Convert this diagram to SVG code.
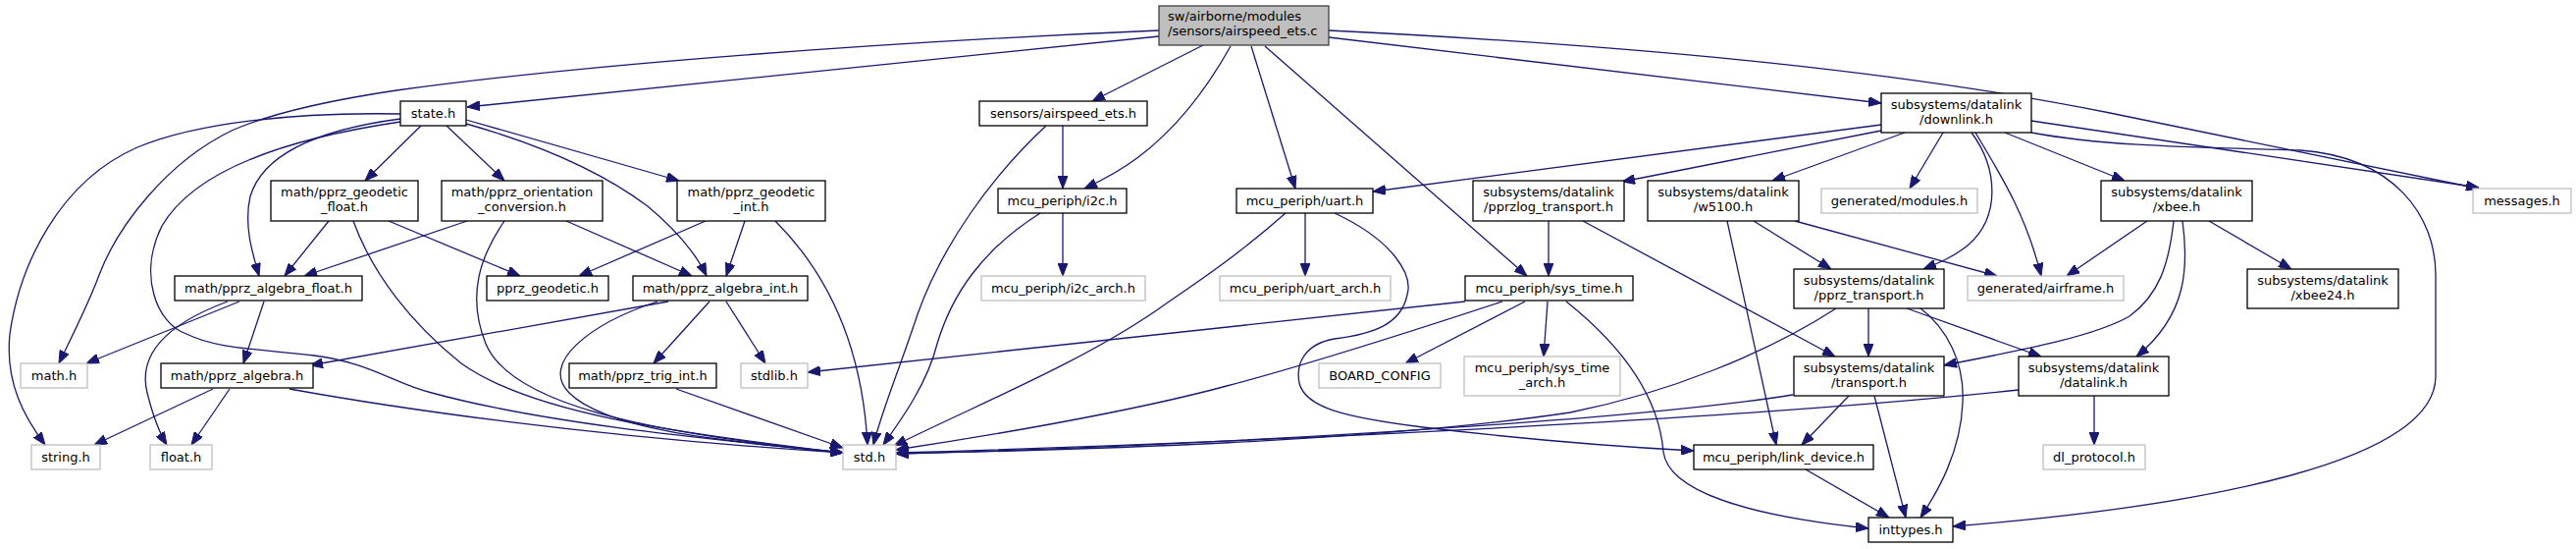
<svg xmlns="http://www.w3.org/2000/svg" width="2625" height="559" viewBox="0 0 2625 559">
<defs>
<marker id="ah" markerUnits="userSpaceOnUse" viewBox="0 0 13 10" refX="13" refY="5" markerWidth="13" markerHeight="10" orient="auto">
<path d="M0,0 L13,5 L0,10 z" fill="#191970" stroke="#191970" stroke-width="1"/>
</marker>
<style>
.e path{fill:none;stroke:#191970;stroke-width:1.3;marker-end:url(#ah)}
.d rect{fill:#fff;stroke:#000;stroke-width:1.3}
.u rect{fill:#fff;stroke:#bfbfbf;stroke-width:1.3}
.m rect{fill:#bfbfbf;stroke:#404040;stroke-width:1.3}
text{font-family:"DejaVu Sans","Liberation Sans",sans-serif;font-size:13px;fill:#000;text-anchor:middle}
</style>
</defs>
<rect width="2625" height="559" fill="#fff"/>
<g id="edges" class="e">
<path d="M1181,37 L476,109"/>
<path d="M1181,31 C900,43 600,65 404,92 C330,103 270,118 236,133 C170,165 120,230 101,280 C90,310 72,345 60,370"/>
<path d="M408,116 C300,114 200,125 140,150 C60,185 20,270 10,340 C5,390 25,425 46,453"/>
<path d="M408,121 C340,130 270,150 255,200 C248,230 258,260 264,281"/>
<path d="M408,124 C300,140 200,170 165,230 C140,280 160,330 190,340 C220,355 260,355 320,362 C380,370 400,390 440,400 C550,430 700,445 859,461"/>
<path d="M429,128 L372,184"/>
<path d="M455,128 L514,184"/>
<path d="M475,122 L692,184"/>
<path d="M475,126 C560,150 620,180 660,210 C690,235 710,260 720,281"/>
<path d="M335,225 L290,281"/>
<path d="M360,225 C380,280 420,330 470,370 C540,420 680,440 859,461"/>
<path d="M396,225 L530,281"/>
<path d="M476,225 L310,281"/>
<path d="M514,225 C490,260 475,300 495,350 C520,410 650,440 859,461"/>
<path d="M577,225 L705,281"/>
<path d="M719,225 L590,281"/>
<path d="M759,225 L740,281"/>
<path d="M790,225 C835,270 878,340 884,453"/>
<path d="M244,307 L88,370"/>
<path d="M232,307 C170,330 140,360 150,400 C155,420 162,440 170,453"/>
<path d="M269,307 L248,370"/>
<path d="M217,396 L96,453"/>
<path d="M234,396 L195,453"/>
<path d="M295,396 C400,415 600,445 859,461"/>
<path d="M681,307 L316,372"/>
<path d="M670,307 C600,330 550,370 580,400 C620,440 750,450 859,461"/>
<path d="M723,307 L666,370"/>
<path d="M740,307 L780,370"/>
<path d="M689,396 L859,456"/>
<path d="M1083,128 L1083,192"/>
<path d="M1066,128 C1010,180 960,250 935,320 C915,380 898,420 890,453"/>
<path d="M1083,217 L1083,281"/>
<path d="M1060,217 C1000,255 970,300 955,350 C945,390 920,425 900,453"/>
<path d="M1330,217 L1330,281"/>
<path d="M1310,217 C1250,270 1200,300 1180,315 C1100,370 1000,410 911,454"/>
<path d="M1360,217 C1420,245 1440,280 1434,300 C1428,330 1400,340 1360,345 C1330,350 1320,370 1324,390 C1330,415 1370,425 1450,435 C1550,447 1650,455 1726,459"/>
<path d="M1226,46 L1113,103"/>
<path d="M1254,47 C1230,90 1200,130 1160,160 C1140,175 1120,185 1105,192"/>
<path d="M1275,47 L1320,192"/>
<path d="M1289,47 L1556,281"/>
<path d="M1354,38 L1917,105"/>
<path d="M1354,31 C1700,48 1950,75 2150,115 C2350,155 2460,178 2526,192"/>
<path d="M1917,127 L1399,195"/>
<path d="M1917,133 L1653,185"/>
<path d="M1941,135 L1806,184"/>
<path d="M1980,135 L1946,192"/>
<path d="M2009,135 C2035,170 2040,220 2005,250 C1990,262 1975,268 1960,274"/>
<path d="M2013,135 C2040,180 2065,220 2080,281"/>
<path d="M2043,135 L2165,184"/>
<path d="M2070,123 L2526,191"/>
<path d="M2070,135 C2150,150 2250,150 2344,153 C2440,160 2482,220 2482,280 L2482,383 C2482,470 2250,515 1990,536"/>
<path d="M1760,225 L1810,453"/>
<path d="M1787,225 L1866,274"/>
<path d="M1829,225 L2035,281"/>
<path d="M2188,225 L2106,281"/>
<path d="M2215,225 C2210,270 2200,300 2170,322 C2130,345 2040,360 1981,372"/>
<path d="M2224,225 C2230,270 2230,320 2177,363"/>
<path d="M2251,225 L2335,274"/>
<path d="M1578,225 L1578,281"/>
<path d="M1613,225 L1870,363"/>
<path d="M1493,307 L823,379"/>
<path d="M1531,307 C1400,350 1300,380 1250,393 C1150,420 1000,445 913,458"/>
<path d="M1554,307 L1432,370"/>
<path d="M1577,307 L1573,363"/>
<path d="M1596,307 C1650,350 1690,400 1695,460 C1700,500 1780,525 1904,538"/>
<path d="M1904,314 L1904,363"/>
<path d="M1871,314 C1800,360 1700,400 1600,420 C1400,450 1100,458 913,462"/>
<path d="M1943,314 L2080,363"/>
<path d="M1956,313 C1985,335 2002,370 2000,410 C1998,460 1975,500 1957,527"/>
<path d="M1827,402 C1650,430 1200,455 913,462"/>
<path d="M1884,403 L1836,453"/>
<path d="M1910,403 L1942,527"/>
<path d="M2057,397 C1800,425 1300,450 913,461"/>
<path d="M2134,403 L2134,453"/>
<path d="M1840,478 L1925,527"/>
</g>
<g id="n_main" class="m"><rect x="1181" y="6" width="173" height="40"/><text x="1190" y="21" style="text-anchor:start">sw/airborne/modules</text><text x="1190" y="36" style="text-anchor:start">/sensors/airspeed_ets.c</text></g>
<g id="n_state" class="d"><rect x="408" y="103" width="67" height="25"/><text x="441.5" y="120">state.h</text></g>
<g id="n_geofloat" class="d"><rect x="276" y="184" width="150" height="41"/><text x="351" y="200">math/pprz_geodetic</text><text x="351" y="215">_float.h</text></g>
<g id="n_orient" class="d"><rect x="450" y="184" width="164" height="41"/><text x="532" y="200">math/pprz_orientation</text><text x="532" y="215">_conversion.h</text></g>
<g id="n_geoint" class="d"><rect x="690" y="184" width="151" height="41"/><text x="765.5" y="200">math/pprz_geodetic</text><text x="765.5" y="215">_int.h</text></g>
<g id="n_asets" class="d"><rect x="998" y="103" width="171" height="25"/><text x="1083.5" y="120">sensors/airspeed_ets.h</text></g>
<g id="n_i2c" class="d"><rect x="1017" y="192" width="131" height="25"/><text x="1082.5" y="209">mcu_periph/i2c.h</text></g>
<g id="n_uart" class="d"><rect x="1260" y="192" width="139" height="25"/><text x="1329.5" y="209">mcu_periph/uart.h</text></g>
<g id="n_downlink" class="d"><rect x="1917" y="95" width="153" height="40"/><text x="1993.5" y="111">subsystems/datalink</text><text x="1993.5" y="126">/downlink.h</text></g>
<g id="n_pprzlog" class="d"><rect x="1501" y="184" width="154" height="41"/><text x="1578" y="200">subsystems/datalink</text><text x="1578" y="215">/pprzlog_transport.h</text></g>
<g id="n_w5100" class="d"><rect x="1679" y="184" width="154" height="41"/><text x="1756" y="200">subsystems/datalink</text><text x="1756" y="215">/w5100.h</text></g>
<g id="n_modules" class="u"><rect x="1856" y="192" width="159" height="25"/><text x="1935.5" y="209">generated/modules.h</text></g>
<g id="n_xbee" class="d"><rect x="2141" y="184" width="154" height="41"/><text x="2218" y="200">subsystems/datalink</text><text x="2218" y="215">/xbee.h</text></g>
<g id="n_messages" class="u"><rect x="2520" y="192" width="100" height="25"/><text x="2570" y="209">messages.h</text></g>
<g id="n_algfloat" class="d"><rect x="178" y="281" width="191" height="25"/><text x="273.5" y="298">math/pprz_algebra_float.h</text></g>
<g id="n_pprzgeo" class="d"><rect x="496" y="281" width="124" height="25"/><text x="558" y="298">pprz_geodetic.h</text></g>
<g id="n_algint" class="d"><rect x="645" y="281" width="178" height="25"/><text x="734" y="298">math/pprz_algebra_int.h</text></g>
<g id="n_i2carch" class="u"><rect x="1000" y="281" width="167" height="25"/><text x="1083.5" y="298">mcu_periph/i2c_arch.h</text></g>
<g id="n_uartarch" class="u"><rect x="1243" y="281" width="174" height="25"/><text x="1330" y="298">mcu_periph/uart_arch.h</text></g>
<g id="n_systime" class="d"><rect x="1493" y="281" width="171" height="25"/><text x="1578.5" y="298">mcu_periph/sys_time.h</text></g>
<g id="n_airframe" class="u"><rect x="2005" y="281" width="159" height="25"/><text x="2084.5" y="298">generated/airframe.h</text></g>
<g id="n_pprztrans" class="d"><rect x="1828" y="274" width="153" height="40"/><text x="1904.5" y="290">subsystems/datalink</text><text x="1904.5" y="305">/pprz_transport.h</text></g>
<g id="n_xbee24" class="d"><rect x="2290" y="274" width="154" height="40"/><text x="2367" y="290">subsystems/datalink</text><text x="2367" y="305">/xbee24.h</text></g>
<g id="n_math" class="u"><rect x="21" y="370" width="68" height="25"/><text x="55" y="387">math.h</text></g>
<g id="n_alg" class="d"><rect x="164" y="370" width="155" height="25"/><text x="241.5" y="387">math/pprz_algebra.h</text></g>
<g id="n_trig" class="d"><rect x="580" y="370" width="150" height="25"/><text x="655" y="387">math/pprz_trig_int.h</text></g>
<g id="n_stdlib" class="u"><rect x="755" y="370" width="68" height="25"/><text x="789" y="387">stdlib.h</text></g>
<g id="n_board" class="u"><rect x="1344" y="370" width="124" height="25"/><text x="1406" y="387">BOARD_CONFIG</text></g>
<g id="n_systimearch" class="u"><rect x="1492" y="363" width="159" height="40"/><text x="1571.5" y="379">mcu_periph/sys_time</text><text x="1571.5" y="394">_arch.h</text></g>
<g id="n_transport" class="d"><rect x="1828" y="363" width="153" height="40"/><text x="1904.5" y="379">subsystems/datalink</text><text x="1904.5" y="394">/transport.h</text></g>
<g id="n_datalink" class="d"><rect x="2057" y="363" width="153" height="40"/><text x="2133.5" y="379">subsystems/datalink</text><text x="2133.5" y="394">/datalink.h</text></g>
<g id="n_string" class="u"><rect x="32" y="453" width="70" height="25"/><text x="67" y="470">string.h</text></g>
<g id="n_float" class="u"><rect x="153" y="453" width="63" height="25"/><text x="184.5" y="470">float.h</text></g>
<g id="n_std" class="u"><rect x="859" y="453" width="54" height="25"/><text x="886" y="470">std.h</text></g>
<g id="n_linkdev" class="d"><rect x="1726" y="453" width="183" height="25"/><text x="1817.5" y="470">mcu_periph/link_device.h</text></g>
<g id="n_dlproto" class="u"><rect x="2082" y="453" width="104" height="25"/><text x="2134" y="470">dl_protocol.h</text></g>
<g id="n_inttypes" class="d"><rect x="1904" y="527" width="86" height="25"/><text x="1947" y="544">inttypes.h</text></g>
</svg>
